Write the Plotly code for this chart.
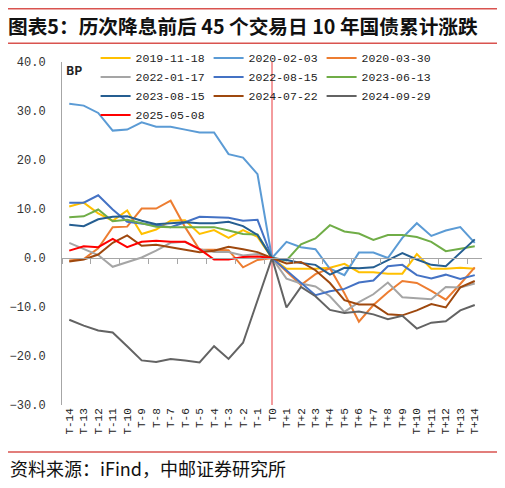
import plotly.graph_objects as go

# x categories: 14 trading days before / after the rate cut
days = ['T-%d' % i for i in range(14, 0, -1)] + ['T0'] + ['T+%d' % i for i in range(1, 15)]

# cumulative change of 10y CGB yield, bp
cut_2019_11_18 = [10.5, 11.3, 9.1, 7.6, 9.7, 4.9, 5.8, 7.6, 7.7, 4.9, 5.7, 4.1, 5.7, 4.3, 0,
                  -2.2, -2.2, -2.2, -2.0, -1.2, -2.9, -2.9, -3.2, -3.2, 0.8, -2.2, -2.2, -2.0, -2.2]
cut_2020_02_03 = [31.5, 31.1, 29.6, 26.0, 26.2, 27.7, 26.8, 26.8, 26.2, 25.6, 25.6, 21.2, 20.5, 17.1, 0,
                  3.3, 2.2, 1.8, -2.2, -3.5, 1.1, 1.1, 0.0, 4.1, 7.1, 4.5, 5.6, 6.3, 3.1]
cut_2020_03_30 = [-0.5, -0.2, 2.0, 6.3, 6.4, 10.1, 10.1, 11.7, 6.3, 1.7, 1.7, 1.6, -1.9, -0.4, 0,
                  -2.8, -5.5, -3.3, -2.1, -7.2, -13.0, -9.6, -7.0, -4.7, -5.1, -6.7, -8.5, -5.3, -1.9]
cut_2022_01_17 = [3.1, 1.8, 0.6, -1.8, -0.9, 0.1, 1.5, 3.1, 3.3, 1.8, 1.2, 1.2, 0.5, 0.8, 0,
                  -4.2, -5.2, -5.8, -7.8, -11.0, -9.0, -7.4, -5.0, -8.0, -8.2, -8.4, -5.9, -6.0, -5.2]
cut_2022_08_15 = [11.3, 11.3, 12.8, 9.9, 7.4, 7.0, 6.7, 6.3, 7.3, 8.4, 8.3, 8.2, 7.6, 7.8, 0,
                  -2.5, -5.0, -7.6, -6.8, -6.3, -5.0, -4.6, -1.7, -1.4, -3.5, -4.2, -3.4, -4.3, -3.5]
cut_2023_06_13 = [8.3, 8.5, 9.9, 7.5, 7.8, 7.1, 6.4, 6.3, 6.3, 6.3, 6.3, 5.6, 4.9, 4.8, 0,
                  -0.5, 2.8, 4.0, 6.7, 5.4, 5.0, 3.7, 4.7, 4.7, 4.3, 3.3, 1.4, 1.9, 2.4]
cut_2023_08_15 = [6.8, 6.5, 7.9, 8.4, 8.5, 7.6, 6.9, 7.1, 7.3, 7.1, 7.1, 7.4, 6.5, 4.7, 0,
                  -0.4, -1.0, -1.4, -3.4, -2.0, -2.1, -1.9, -0.5, 1.0, -0.3, -1.4, -1.7, 1.1, 3.8]
cut_2024_07_22 = [-0.7, -0.3, 0.7, 3.1, 4.6, 2.5, 2.7, 2.2, 1.7, 1.2, 1.5, 2.3, 1.8, 1.2, 0,
                  -1.1, -0.8, -2.5, -5.1, -8.6, -9.5, -9.5, -11.5, -11.7, -10.7, -9.4, -10.1, -6.0, -4.7]
cut_2024_09_29 = [-12.6, -13.8, -14.8, -15.2, -18.0, -20.9, -21.2, -20.6, -20.9, -21.3, -18.0, -20.6, -17.3, -8.5, 0,
                  -10.1, -5.9, -7.8, -10.6, -11.2, -10.9, -11.5, -12.5, -11.8, -14.4, -13.2, -12.9, -10.7, -9.6]
cut_2025_05_08 = [1.5, 2.4, 2.2, 3.9, 2.2, 3.3, 3.5, 3.3, 3.3, 1.8, -0.3, -0.3, 0.2, 0.3, 0] + [None] * 14

series = [
    ('2019-11-18', cut_2019_11_18, '#FFC000'),
    ('2020-02-03', cut_2020_02_03, '#5B9BD5'),
    ('2020-03-30', cut_2020_03_30, '#ED7D31'),
    ('2022-01-17', cut_2022_01_17, '#A5A5A5'),
    ('2022-08-15', cut_2022_08_15, '#4472C4'),
    ('2023-06-13', cut_2023_06_13, '#70AD47'),
    ('2023-08-15', cut_2023_08_15, '#255E91'),
    ('2024-07-22', cut_2024_07_22, '#9E480E'),
    ('2024-09-29', cut_2024_09_29, '#636363'),
    ('2025-05-08', cut_2025_05_08, '#FF0000'),
]

y_min, y_max = -30, 40
mono = 'Liberation Mono'
cjk = 'Noto Sans CJK SC'

fig = go.Figure()
for name, vals, col in series:
    fig.add_trace(go.Scatter(x=days, y=vals, name=name, mode='lines',
                             line=dict(color=col, width=2)))

# dummy trace so the zero-line axis gets drawn
fig.add_trace(go.Scatter(x=days, y=[None] * len(days), xaxis='x2', showlegend=False,
                         hoverinfo='skip'))

zero_pos = (0 - y_min) / (y_max - y_min)
t0 = days.index('T0')

# page has an 8px body margin, figure is sized/offset to compensate
fig.update_layout(
    width=497, height=480,
    margin=dict(l=54, r=23, t=54, b=83, autoexpand=False),
    paper_bgcolor='white', plot_bgcolor='white',
    font=dict(family=mono, size=12, color='#222'),
    title=dict(text='<b>图表5：历次降息前后 45 个交易日 10 年国债累计涨跌</b>',
               x=0, xanchor='left', y=1 - 19 / 480, yanchor='middle',
               xref='container', yref='container',
               font=dict(family=cjk, size=19.7, color='#111')),
    xaxis=dict(type='category', categoryorder='array', categoryarray=days,
               range=[-0.5, len(days) - 0.5], showline=False, showgrid=False,
               tickangle=-90, tickfont=dict(size=11, color='#222'), ticks=''),
    xaxis2=dict(type='category', categoryorder='array', categoryarray=days,
                range=[-0.5, len(days) - 0.5], overlaying='x', anchor='free',
                position=zero_pos, showline=True, linecolor='#A6A6A6', linewidth=1,
                ticks='outside', ticklen=5, tickcolor='#A6A6A6', tickson='boundaries',
                showticklabels=False, showgrid=False),
    yaxis=dict(range=[y_min, y_max], dtick=10, tickformat='.1f', showgrid=False,
               zeroline=False, showline=True, linecolor='#A6A6A6', linewidth=1,
               ticks='', ticklabelstandoff=13, tickfont=dict(size=12, color='#333')),
    legend=dict(orientation='h', x=0.08, y=1.054, xanchor='left', yanchor='top',
                entrywidth=68, bgcolor='rgba(0,0,0,0)', font=dict(size=11.5, color='#222'),
                itemwidth=30),
    showlegend=True,
)

fig.add_shape(type='line', xref='x', yref='paper', x0=t0, x1=t0, y0=0, y1=1,
              line=dict(color='#E8383D', width=1), layer='below')

# red rules around the title and above the source line
for yy in [1.155, 1.055, -0.137]:
    fig.add_shape(type='line', xref='paper', yref='paper', x0=-0.13, x1=1.045, y0=yy, y1=yy,
                  line=dict(color='#D9534F', width=1.5))

fig.add_annotation(text='<b>BP</b>', xref='paper', yref='paper', x=0.005, y=0.977,
                   xanchor='left', yanchor='middle', showarrow=False,
                   font=dict(family=cjk, size=12, color='#222'))
fig.add_annotation(text='资料来源：iFind，中邮证券研究所', xref='paper', yref='paper',
                   x=-0.1286, y=-0.184, xanchor='left', yanchor='middle', showarrow=False,
                   font=dict(family=cjk, size=18, color='#111'))

fig.write_html("out.html")
